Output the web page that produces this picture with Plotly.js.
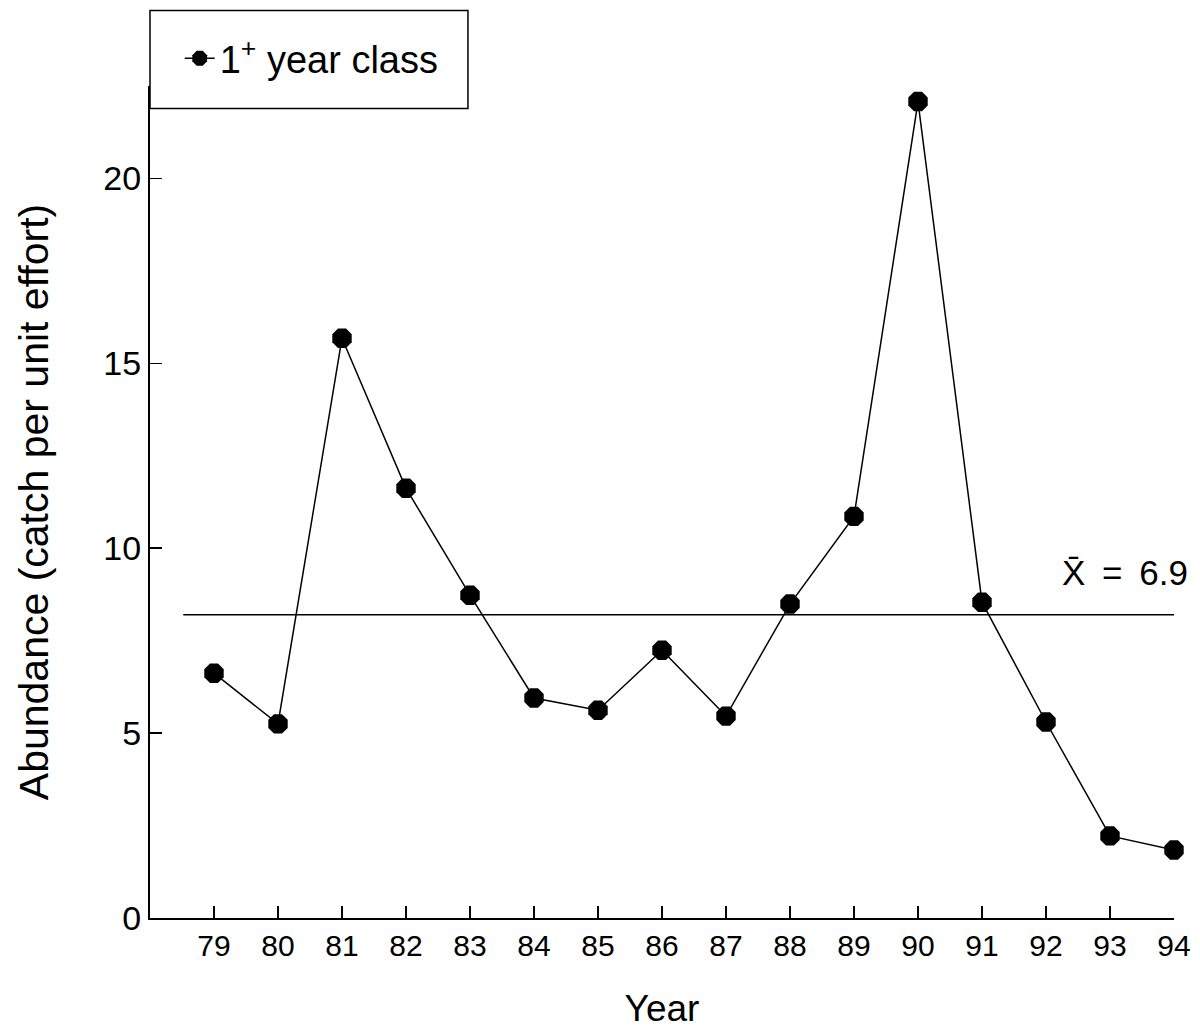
<!DOCTYPE html>
<html>
<head>
<meta charset="utf-8">
<script src="https://cdn.plot.ly/plotly-3.0.1.min.js"></script>
<style>html,body{margin:0;padding:0;background:#fff;}#chart{width:1200px;height:1032px;}</style>
</head>
<body>
<div id="chart"></div>
<script>
const years = [79,80,81,82,83,84,85,86,87,88,89,90,91,92,93,94];
const abundance = [6.62,5.25,15.68,11.62,8.73,5.95,5.62,7.24,5.46,8.49,10.86,22.08,8.54,5.30,2.22,1.84];
const meanLineY = 8.2;
const meanLabel = "X\u0304 \u2009=\u2009 6.9";
const yTicks = [0,5,10,15,20];
const seriesName = "1<sup>+</sup> year class";

const font = "Liberation Sans, Arial, Helvetica, sans-serif";

const trace = {
  x: years, y: abundance, type: 'scatter', mode: 'lines+markers',
  name: seriesName,
  line: {color: '#000', width: 1.5},
  marker: {color: '#000', size: 21, symbol: 'octagon'},
  cliponaxis: false
};

const layout = {
  width: 1200, height: 1032,
  margin: {l: 150, r: 26, t: 86, b: 114},
  paper_bgcolor: '#fff', plot_bgcolor: '#fff',
  font: {family: font, color: '#000'},
  showlegend: true,
  legend: {x: 0.029, y: 1.033, xanchor: 'left', yanchor: 'middle', bgcolor: 'rgba(0,0,0,0)',
           font: {size: 38, family: font, color: '#000'}, itemwidth: 30},
  xaxis: {
    range: [78, 94], tickvals: years, ticktext: years.map(String),
    ticks: 'inside', ticklen: 12, tickwidth: 1.5, tickcolor: '#000',
    showline: true, linecolor: '#000', linewidth: 2, showgrid: false, zeroline: false,
    tickfont: {size: 30, family: font},
    title: {text: 'Year', font: {size: 37, family: font}, standoff: 34}
  },
  yaxis: {
    range: [0, 22.5], tickvals: yTicks,
    ticks: 'inside', ticklen: 12, tickwidth: 1.5, tickcolor: '#000',
    showline: true, linecolor: '#000', linewidth: 2, showgrid: false, zeroline: false,
    tickfont: {size: 34, family: font},
    title: {text: 'Abundance (catch per unit effort)', font: {size: 41, family: font}, standoff: 42}
  },
  shapes: [
    {type: 'line', xref: 'x', yref: 'y', x0: 78.52, x1: 94.17, y0: meanLineY, y1: meanLineY,
     line: {color: '#000', width: 1.5}},
    {type: 'rect', xref: 'paper', yref: 'paper', x0: 0, x1: 0.3105, y0: 0.973, y1: 1.0907,
     line: {color: '#000', width: 1.5}}
  ],
  annotations: [
    {xref: 'paper', yref: 'y', x: 1.0156, y: 9.35, text: meanLabel, showarrow: false,
     xanchor: 'right', yanchor: 'middle', font: {size: 35, family: font}}
  ]
};

Plotly.newPlot('chart', [trace], layout, {staticPlot: true});
</script>
</body>
</html>
